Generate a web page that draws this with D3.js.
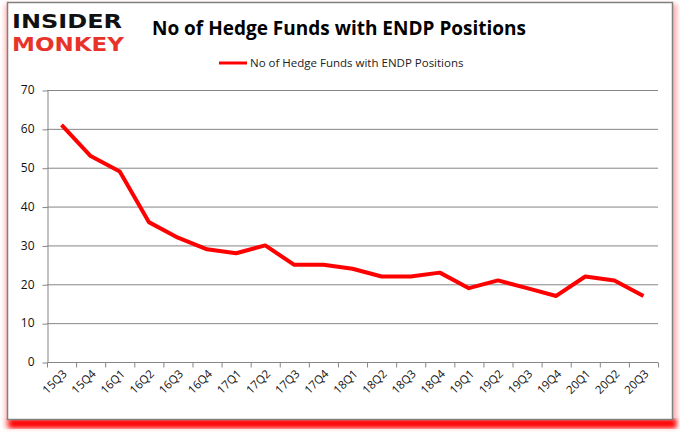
<!DOCTYPE html>
<html><head><meta charset="utf-8">
<script src="https://cdn.jsdelivr.net/npm/d3@7/dist/d3.min.js"></script>
<style>body{margin:0;background:#fff;}svg{display:block;}</style>
</head><body>
<svg id="c" width="680" height="433"></svg>
<script>
const categories = ["15Q3","15Q4","16Q1","16Q2","16Q3","16Q4","17Q1","17Q2","17Q3","17Q4","18Q1","18Q2","18Q3","18Q4","19Q1","19Q2","19Q3","19Q4","20Q1","20Q2","20Q3"];
const values = [61,53,49,36,32,29,28,30,25,25,24,22,22,23,19,21,19,17,22,21,17];
const yTicks = [0,10,20,30,40,50,60,70];
const seriesName = "No of Hedge Funds with ENDP Positions";

const svg = d3.select("#c");
const defs = svg.append("defs");
const f = defs.append("filter").attr("id","glow").attr("x","-5%").attr("y","-5%").attr("width","110%").attr("height","110%");
f.append("feGaussianBlur").attr("stdDeviation",2.5);

// frame shadow
svg.append("rect").attr("x",5).attr("y",4).attr("width",672).attr("height",424).attr("fill","#ffb0b0").attr("filter","url(#glow)");
svg.append("rect").attr("x",9).attr("y",419).attr("width",667).attr("height",9).attr("fill","#ff0000").attr("filter","url(#glow)");
svg.append("rect").attr("x",7.5).attr("y",2.5).attr("width",665).attr("height",417).attr("fill","#fff").attr("stroke","#808080").attr("stroke-width",1.5);

// logo
svg.append("text").attr("x",12).attr("y",28).attr("font-family","DejaVu Sans").attr("font-weight","bold")
  .attr("font-size",19).attr("fill","#111").attr("textLength",110).attr("lengthAdjust","spacingAndGlyphs").text("INSIDER");
svg.append("text").attr("x",12).attr("y",51).attr("font-family","DejaVu Sans").attr("font-weight","bold")
  .attr("font-size",19).attr("fill","#e8332a").attr("textLength",112).attr("lengthAdjust","spacingAndGlyphs").text("MONKEY");

// title
svg.append("text").attr("x",339).attr("y",35).attr("text-anchor","middle").attr("font-family","Open Sans")
  .attr("font-weight","bold").attr("font-size",19).attr("fill","#000").text(seriesName);

const m = {l:47, r:658, t:90, b:362};
const x = d3.scaleBand().domain(categories).range([m.l,m.r]);
const y = d3.scaleLinear().domain([0,70]).range([m.b,m.t]);

// legend
svg.append("line").attr("x1",219).attr("x2",247).attr("y1",63).attr("y2",63).attr("stroke","#ff0000").attr("stroke-width",3);
svg.append("text").attr("x",250).attr("y",67).attr("font-family","Open Sans").attr("font-size",11.5).attr("fill","#222").text(seriesName);

// grid
svg.append("g").selectAll("line").data(yTicks.filter(d=>d>0)).join("line")
  .attr("x1",m.l).attr("x2",m.r).attr("y1",d=>y(d)+0.5).attr("y2",d=>y(d)+0.5).attr("stroke","#868686").attr("stroke-width",1);

// y axis
const ya = svg.append("g").attr("transform",`translate(${m.l+0.5},0)`)
  .call(d3.axisLeft(y).tickValues(yTicks).tickSize(5).tickPadding(8).tickSizeOuter(0));
ya.select(".domain").attr("stroke","#868686");
ya.selectAll(".tick line").attr("stroke","#868686").attr("transform","translate(0,0.5)");
ya.selectAll("text").attr("font-family","Open Sans").attr("font-size",12).attr("fill","#111");

// x axis
const xa = svg.append("g").attr("transform",`translate(0,${m.b+0.5})`)
  .call(d3.axisBottom(x).tickSize(0).tickPadding(0));
xa.select(".domain").attr("stroke","#868686").attr("d",`M${m.l},0H${m.r}`);
xa.selectAll(".tick line").remove();
const bounds = categories.map(c=>x(c)).concat([m.r]);
xa.append("g").selectAll("line").data(bounds).join("line")
  .attr("x1",d=>d+0.5).attr("x2",d=>d+0.5).attr("y1",0).attr("y2",5).attr("stroke","#868686");
xa.selectAll(".tick text").attr("font-family","Open Sans").attr("font-size",11.5).attr("fill","#111")
  .attr("text-anchor","end").attr("dy",0).attr("transform","translate(6,12) rotate(-45)");

// line
const line = d3.line().x((d,i)=>x(categories[i])+x.bandwidth()/2).y(d=>y(d));
svg.append("path").datum(values).attr("d",line).attr("fill","none").attr("stroke","#ff0000")
  .attr("stroke-width",4).attr("stroke-linejoin","round");
</script>
</body></html>
